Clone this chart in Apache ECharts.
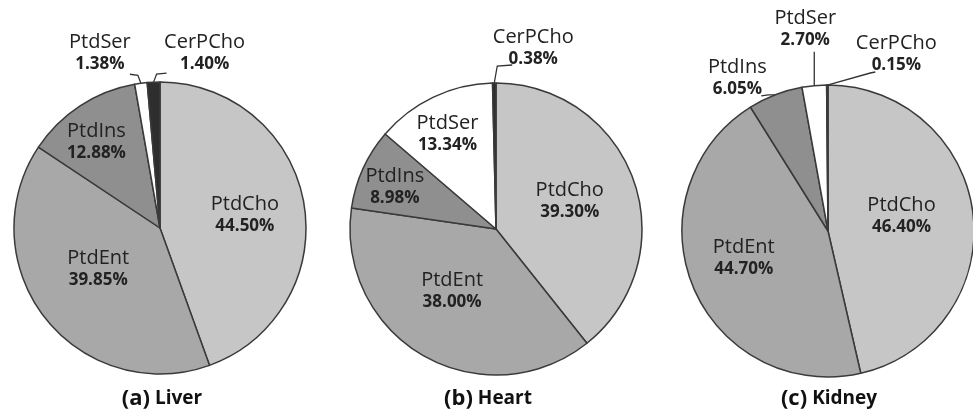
<!DOCTYPE html>
<html>
<head>
<meta charset="utf-8">
<script src="https://cdn.jsdelivr.net/npm/echarts@6/dist/echarts.min.js"></script>
<style>
  html, body { margin: 0; padding: 0; background: #ffffff; }
  #chart { width: 973px; height: 414px; }
</style>
</head>
<body>
<div id="chart"></div>
<script>
// ---- data ----
const categories = ['PtdCho', 'PtdEnt', 'PtdIns', 'PtdSer', 'CerPCho'];
const liverValues = [44.50, 39.85, 12.88, 1.38, 1.40];
const heartValues = [39.30, 38.00, 8.98, 13.34, 0.38];
const kidneyValues = [46.40, 44.70, 6.05, 2.70, 0.15];
const panelLetters = ['(a)', '(b)', '(c)'];
const panelNames = ['Liver', 'Heart', 'Kidney'];

// ---- styling / layout ----
const sliceColors = ['#c6c6c6', '#a8a8a8', '#8f8f8f', '#ffffff', '#2e2e2e'];
const panelCenters = [[160, 228], [496, 229], [828, 231]];
const pieRadius = 146;
const fontFam = '"Open Sans", "DejaVu Sans", sans-serif';

// shifts of inside labels from the default (mid-radius) position
const insideShift = [
  { PtdCho: [10, 0], PtdEnt: [-2, -6], PtdIns: [-22, -22] },
  { PtdCho: [2, -3], PtdEnt: [-6, -4], PtdIns: [-32, -10], PtdSer: [-16, -26] },
  { PtdCho: [-2, -6], PtdEnt: [-14, -2] }
];
// outside labels: offsets from the arc point computed by the library
const outsideCfg = [
  {
    PtdSer: { bend: [-3, -8], end: [-11, -9], label: [-41, -30] },
    CerPCho: { bend: [3, -8], end: [13, -9], label: [51, -29] }
  },
  {
    CerPCho: { bend: [3, -17], end: [18, -18], label: [39, -35] }
  },
  {
    PtdIns: { bend: [-7, 0], end: [-14, 1], label: [-38, -17] },
    PtdSer: { bend: [0, -17], end: [0, -34], label: [-9, -56] },
    CerPCho: { bend: [43, -12], end: [48, -13], label: [69, -31] }
  }
];

const allValues = [liverValues, heartValues, kidneyValues];

function makeSeries(idx) {
  const vals = allValues[idx];
  const outs = outsideCfg[idx];
  const ins = insideShift[idx];
  return {
    type: 'pie',
    name: panelNames[idx],
    center: panelCenters[idx],
    radius: [0, pieRadius],
    startAngle: 90,
    clockwise: true,
    avoidLabelOverlap: false,
    animation: false,
    silent: true,
    itemStyle: { borderColor: '#3a3a3a', borderWidth: 1.5 },
    label: {
      show: true,
      position: 'inside',
      formatter: function (p) {
        return '{n|' + p.name + '}\n{p|' + p.value.toFixed(2) + '%}';
      },
      rich: {
        n: { fontFamily: fontFam, fontSize: 20, fontWeight: 'normal', color: '#222', lineHeight: 22, align: 'center' },
        p: { fontFamily: fontFam, fontSize: 17, fontWeight: 'bold', color: '#222', lineHeight: 22, align: 'center' }
      }
    },
    labelLine: { show: false },
    data: categories.map(function (c, i) {
      const item = { name: c, value: vals[i], itemStyle: { color: sliceColors[i] } };
      if (outs[c]) {
        item.label = { position: 'outside' };
        item.labelLine = { show: true, length: 6, length2: 6, smooth: false, lineStyle: { color: '#333', width: 1.3 } };
      }
      return item;
    }),
    labelLayout: function (params) {
      const name = categories[params.dataIndex];
      if (outs[name]) {
        const cfg = outs[name];
        const p0 = params.labelLinePoints ? params.labelLinePoints[0] : [0, 0];
        return {
          x: p0[0] + cfg.label[0],
          y: p0[1] + cfg.label[1],
          align: 'center',
          verticalAlign: 'middle',
          labelLinePoints: [
            [p0[0], p0[1]],
            [p0[0] + cfg.bend[0], p0[1] + cfg.bend[1]],
            [p0[0] + cfg.end[0], p0[1] + cfg.end[1]]
          ]
        };
      }
      if (ins[name]) {
        return { dx: ins[name][0], dy: ins[name][1] };
      }
      return {};
    }
  };
}

const titleLeft = [157, 483, 824];
const chart = echarts.init(document.getElementById('chart'));
chart.setOption({
  backgroundColor: '#ffffff',
  animation: false,
  title: panelLetters.map(function (l, i) {
    return {
      text: '{l|' + l + '} {n|' + panelNames[i] + '}',
      left: titleLeft[i],
      top: 383,
      textAlign: 'center',
      textStyle: {
        rich: {
          l: { fontFamily: fontFam, fontSize: 22, fontWeight: 'bold', color: '#111' },
          n: { fontFamily: fontFam, fontSize: 19, fontWeight: 'bold', color: '#111' }
        }
      }
    };
  }),
  series: [0, 1, 2].map(makeSeries)
});
</script>
</body>
</html>
